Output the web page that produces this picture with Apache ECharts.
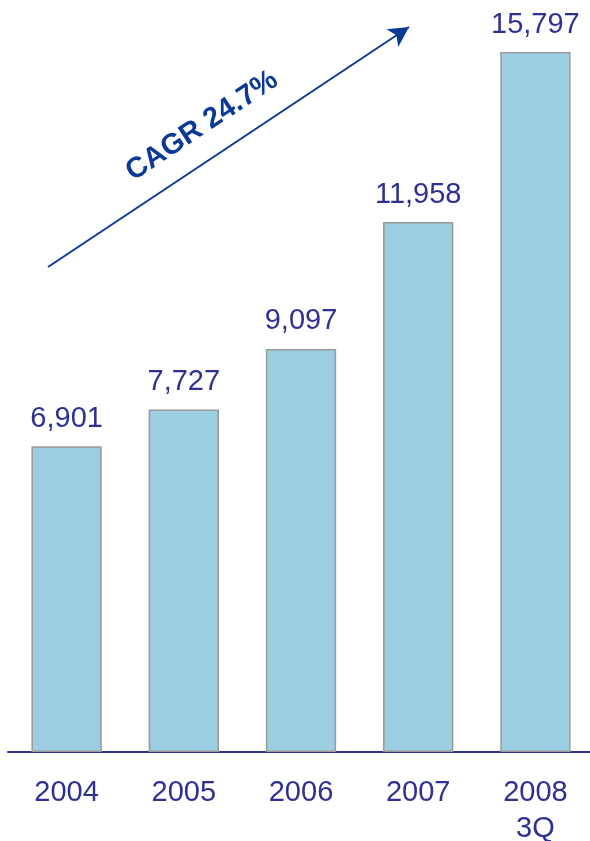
<!DOCTYPE html>
<html>
<head>
<meta charset="utf-8">
<script src="https://cdn.jsdelivr.net/npm/echarts@6/dist/echarts.min.js"></script>
<style>
  html, body { margin: 0; padding: 0; background: #fff; }
  #chart { width: 590px; height: 841px; }
</style>
</head>
<body>
<div id="chart"></div>
<script>
// Yearly totals, with 2008 reported through the third quarter
const categories = ['2004', '2005', '2006', '2007', '2008\n3Q'];
const values = [6901, 7727, 9097, 11958, 15797];
const growthLabel = 'CAGR 24.7%';

const textColor = '#2e3192';
const arrowColor = '#0a3a96';

const chart = echarts.init(document.getElementById('chart'), null, { renderer: 'canvas' });

chart.setOption({
  animation: false,
  backgroundColor: '#ffffff',
  grid: { left: 8, right: -4, top: 52, bottom: 89, outerBoundsMode: 'none', containLabel: false },
  xAxis: {
    type: 'category',
    data: categories,
    axisLine: { show: true, lineStyle: { color: textColor, width: 2 } },
    axisTick: { show: false },
    axisLabel: {
      color: textColor,
      fontFamily: 'Liberation Sans, Arial, sans-serif',
      fontSize: 29,
      lineHeight: 36,
      margin: 23,
      verticalAlign: 'top'
    }
  },
  yAxis: {
    type: 'value',
    min: 0,
    max: 'dataMax',
    show: false,
    splitLine: { show: false }
  },
  series: [{
    type: 'bar',
    data: values,
    barWidth: '60%',
    itemStyle: {
      color: '#9ccde1',
      borderColor: '#9a9a9a',
      borderWidth: 1.5
    },
    label: {
      show: true,
      position: 'top',
      distance: 13,
      color: textColor,
      fontFamily: 'Liberation Sans, Arial, sans-serif',
      fontSize: 29,
      formatter: p => p.value.toLocaleString('en-US')
    },
    markLine: {
      silent: true,
      symbol: ['none', 'arrow'],
      symbolSize: [16, 20],
      lineStyle: { color: arrowColor, width: 2, type: 'solid' },
      label: { show: false },
      data: [[{ x: 48, y: 267 }, { x: 409, y: 27 }]]
    }
  }],
  graphic: [{
    type: 'text',
    x: 202,
    y: 126,
    rotation: Math.atan2(240, 361),
    style: {
      text: growthLabel,
      fill: arrowColor,
      font: 'bold 29px "Liberation Sans", Arial, sans-serif',
      align: 'center',
      verticalAlign: 'middle'
    }
  }]
});
</script>
</body>
</html>
